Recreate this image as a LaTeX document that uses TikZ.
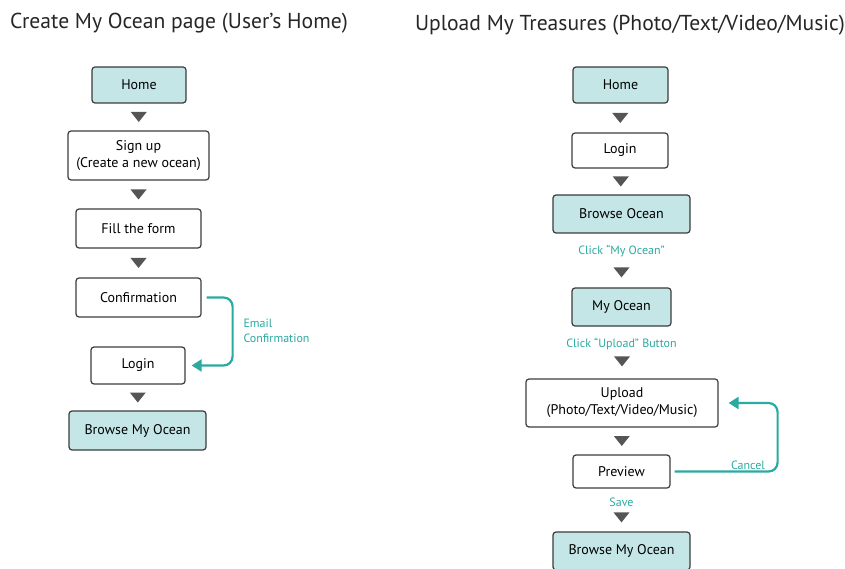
\documentclass[tikz,border=0pt]{standalone}
\usepackage{fontspec}
\setmainfont{PT Sans}
\usepackage{tikz}
\usetikzlibrary{arrows.meta,calc,positioning}
\definecolor{oceanFill}{RGB}{197,230,231}
\definecolor{oceanTeal}{RGB}{42,170,160}
\definecolor{triGray}{RGB}{85,85,85}
\definecolor{boxLine}{RGB}{60,60,60}

\begin{document}
\begin{tikzpicture}[
      x=1pt, y=1pt,
      >={Triangle[length=10pt,width=12pt]},
      box/.style={draw=boxLine, line width=1.2pt, rounded corners=3pt, fill=white,
                  align=center, inner sep=0, font=\fontsize{14}{17}\selectfont},
      boxT/.style={box, fill=oceanFill},
      title/.style={font=\fontsize{21.6}{26}\selectfont, text=black!85},
      lbl/.style={text=oceanTeal, font=\fontsize{12}{15}\selectfont, align=left},
      back/.style={draw=oceanTeal, line width=2.2pt, rounded corners=9pt, ->},
      downtri/.pic={\fill[triGray] (-8,5) -- (8,5) -- (0,-5) -- cycle;}
    ]

    \useasboundingbox (0,0) rectangle (845,568);

    % -------- LEFT: Create My Ocean page --------
    \node[title] (titleL) at (179,545) {Create My Ocean page (User’s Home)};

    \node[boxT, minimum width=94, minimum height=36] (homeL) at (139,483) {Home};
    \node[box, minimum width=141, minimum height=49] (signup) at (138.5,412.5) {Sign up\\(Create a new ocean)};
    \node[box, minimum width=125, minimum height=39] (form) at (138.5,339.5) {Fill the form};
    \node[box, minimum width=125, minimum height=39] (confirm) at (138.5,270.5) {Confirmation};
    \node[box, minimum width=94, minimum height=37] (loginL) at (138,202.5) {Login};
    \node[boxT, minimum width=137, minimum height=39] (browseL) at (137.5,137.5) {Browse My Ocean};

    \pic at ($(homeL.south)!0.5!(signup.north)$) {downtri};
    \pic at ($(signup.south)!0.5!(form.north)$) {downtri};
    \pic at ($(form.south)!0.5!(confirm.north)$) {downtri};
    \pic at ($(loginL.south)!0.5!(browseL.north)$) {downtri};

    \draw[back] ([xshift=5]confirm.east) -- ++(26,0) |- ([xshift=6]loginL.east);
    \node[lbl, anchor=west] (email) at (240,237) {Email\\Confirmation};

    % -------- RIGHT: Upload My Treasures --------
    \node[title] (titleR) at (630,543) {Upload My Treasures (Photo/Text/Video/Music)};

    \node[boxT, minimum width=95, minimum height=36] (homeR) at (620.5,483) {Home};
    \node[box, minimum width=96, minimum height=35] (loginR) at (620,417.5) {Login};
    \node[boxT, minimum width=137, minimum height=38] (browseO) at (621.5,354) {Browse Ocean};
    \node[boxT, minimum width=99, minimum height=38] (myOcean) at (621.5,261) {My Ocean};
    \node[box, minimum width=192, minimum height=48] (upload) at (622,165) {Upload\\(Photo/Text/Video/Music)};
    \node[box, minimum width=97, minimum height=33] (preview) at (621.5,96.5) {Preview};
    \node[boxT, minimum width=137, minimum height=38] (browseR) at (621.5,17) {Browse My Ocean};

    \node[lbl] (clickMy) at ($(browseO.south)+(0,-17)$) {Click “My Ocean”};
    \node[lbl] (clickUp) at ($(myOcean.south)+(0,-17)$) {Click “Upload” Button};
    \node[lbl] (save) at ($(preview.south)+(0,-14)$) {Save};

    \pic at ($(homeR.south)!0.5!(loginR.north)$) {downtri};
    \pic at ($(loginR.south)!0.5!(browseO.north)$) {downtri};
    \pic at ($(myOcean.north)+(0,15)$) {downtri};
    \pic at ($(upload.north)+(0,17)$) {downtri};
    \pic at ($(upload.south)!0.5!(preview.north)$) {downtri};
    \pic at ($(browseR.north)+(0,14)$) {downtri};

    \draw[back] ([xshift=4]preview.east) -- ++(103,0) |- ([xshift=10]upload.east);
    \node[lbl] (cancel) at (748,103) {Cancel};

\end{tikzpicture}
\end{document}
